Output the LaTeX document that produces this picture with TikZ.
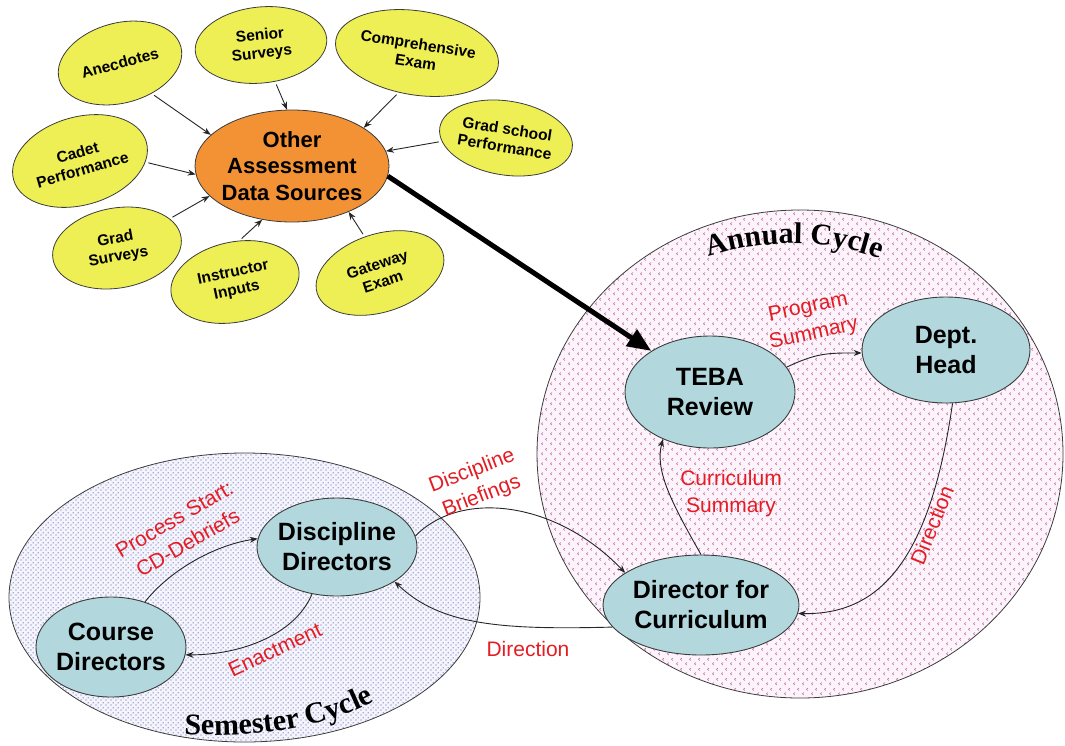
\documentclass[tikz,border=0pt]{standalone}
\usepackage{fontspec}
\setmainfont{Liberation Sans}
\newfontfamily\cycfont{Liberation Serif}
\usetikzlibrary{shapes.geometric,arrows.meta,patterns,decorations.text}

\definecolor{yelc}{RGB}{238,238,85}
\definecolor{orac}{RGB}{242,146,52}
\definecolor{bluc}{RGB}{178,216,222}
\definecolor{redc}{RGB}{228,28,36}
\definecolor{chevc}{RGB}{190,105,160}
\definecolor{annbg}{RGB}{253,244,251}
\definecolor{dotc}{RGB}{95,95,175}
\definecolor{sembg}{RGB}{244,244,252}
\definecolor{edgec}{RGB}{60,60,60}

\pgfdeclarepatternformonly{chevpat}{\pgfpointorigin}{\pgfpoint{9pt}{10pt}}{\pgfpoint{9pt}{10pt}}{%
  \pgfsetlinewidth{0.6pt}%
  \pgfpathmoveto{\pgfpoint{3.2pt}{1pt}}\pgfpathlineto{\pgfpoint{1.6pt}{2.4pt}}\pgfpathlineto{\pgfpoint{3.2pt}{3.8pt}}%
  \pgfpathmoveto{\pgfpoint{7.7pt}{6pt}}\pgfpathlineto{\pgfpoint{6.1pt}{7.4pt}}\pgfpathlineto{\pgfpoint{7.7pt}{8.8pt}}%
  \pgfusepath{stroke}%
}
\pgfdeclarepatternformonly{dotpat}{\pgfpointorigin}{\pgfpoint{5pt}{5pt}}{\pgfpoint{5pt}{5pt}}{%
  \pgfpathcircle{\pgfpoint{1.25pt}{1.25pt}}{0.75pt}%
  \pgfpathcircle{\pgfpoint{3.75pt}{3.75pt}}{0.75pt}%
  \pgfusepath{fill}%
}

\begin{document}
\begin{tikzpicture}[x=1pt,y=-1pt,
  cyc/.style={ellipse, draw=edgec, line width=0.8pt, inner sep=0pt},
  yel/.style={ellipse, draw=edgec, fill=yelc, line width=0.8pt, inner sep=0pt, align=center,
    font=\fontsize{15.5}{18}\selectfont\bfseries},
  ora/.style={ellipse, draw=edgec, fill=orac, line width=0.8pt, inner sep=-2pt, align=center,
    font=\fontsize{22}{26.5}\selectfont\bfseries},
  blu/.style={ellipse, draw=edgec, fill=bluc, line width=0.9pt, inner sep=-3pt, align=center,
    font=\fontsize{25}{30}\selectfont\bfseries},
  lab/.style={text=redc, align=center, inner sep=0pt, font=\fontsize{21}{27}\selectfont},
  arr/.style={-{Stealth[length=8pt,width=6pt]}, line width=0.9pt, draw=black!85},
  bigarr/.style={-{Triangle[length=24pt,width=19pt]}, line width=5pt, draw=black},
  cyctext/.style={decorate, decoration={text along path, text align=center,
    text={|\cycfont\bfseries\fontsize{30}{32}\selectfont|#1}}}
]
\useasboundingbox (0,0) rectangle (1065,745);

% cycles
\node[cyc, preaction={fill=sembg}, pattern=dotpat, pattern color=dotc,
  minimum width=471pt, minimum height=289pt] (semcyc) at (244.5,597.5) {};
\node[cyc, preaction={fill=annbg}, pattern=chevpat, pattern color=chevc,
  minimum width=526pt, minimum height=488pt] (anncyc) at (800,454) {};

\path[cyctext={Annual Cycle}] (694,262) .. controls (760,237) and (830,237) .. (894,264);
\path[cyctext={Semester Cycle}] (176,734) .. controls (250,738) and (324,731) .. (382,697);

% data sources
\node[yel, rotate=15, minimum width=126pt, minimum height=80pt] (anec) at (120,63) {Anecdotes};
\node[yel, rotate=6, minimum width=132pt, minimum height=76pt] (senior) at (261,45) {Senior\\Surveys};
\node[yel, rotate=-9, minimum width=160pt, minimum height=84pt] (comp) at (417,53) {Comprehensive\\Exam};
\node[yel, rotate=-9, minimum width=132pt, minimum height=74pt] (gsch) at (506,138) {Grad school\\Performance};
\node[yel, rotate=16, minimum width=138pt, minimum height=88pt] (cadet) at (80,161) {Cadet\\Performance};
\node[yel, rotate=10, minimum width=130pt, minimum height=80pt] (gsurv) at (117,248) {Grad\\Surveys};
\node[yel, rotate=12, minimum width=130pt, minimum height=80pt] (instr) at (235,282) {Instructor\\Inputs};
\node[yel, rotate=18, minimum width=132pt, minimum height=78pt] (gate) at (380,273) {Gateway\\Exam};
\node[ora, minimum width=194pt, minimum height=112pt] (other) at (292,166) {Other\\Assessment\\Data Sources};

\draw[arr, shorten <=3pt] (anec.-59) -- (other.159);
\draw[arr, shorten <=3pt] (senior.-75) -- (other.95);
\draw[arr, shorten <=3pt] (comp.-106) -- (other.28);
\draw[arr, shorten <=3pt] (gsch.192) -- (other.9);
\draw[arr, shorten <=3pt] (cadet.-17) -- (other.185);
\draw[arr, shorten <=3pt] (gsurv.19) -- (other.200);
\draw[arr, shorten <=3pt] (instr.72) -- (other.241);
\draw[arr, shorten <=3pt] (gate.95) -- (other.-39);

% process nodes
\node[blu, minimum width=170pt, minimum height=112pt] (teba) at (710,392) {TEBA\\Review};
\node[blu, minimum width=168pt, minimum height=106pt] (dept) at (946,350) {Dept.\\Head};
\node[blu, minimum width=196pt, minimum height=100pt] (dirc) at (701,605) {Director for\\Curriculum};
\node[blu, minimum width=160pt, minimum height=98pt] (dd) at (337,547) {Discipline\\Directors};
\node[blu, minimum width=150pt, minimum height=100pt] (cd) at (111,647) {Course\\Directors};

\draw[bigarr] (other.-6) -- (teba.145);

\draw[arr] (teba.18) .. controls +(30,-14) and +(-35,0) .. (dept.182);
\draw[arr] (dept.-83) .. controls (930,560) and (880,615) .. (dirc.-5);
\draw[arr] (dirc.90) .. controls (670,500) and (655,470) .. (teba.225);
\draw[arr] (dd.8) .. controls (460,490) and (555,500) .. (dirc.157);
\draw[arr] (dirc.194) .. controls (500,630) and (440,625) .. (dd.-31);
\draw[arr] (cd.53) .. controls (170,570) and (215,545) .. (dd.174);
\draw[arr] (dd.242) .. controls (295,635) and (240,655) .. (cd.-6);

% labels
\node[lab, rotate=12] (lprog) at (811,321) {Program\\Summary};
\node[lab] (lcurr) at (731,494) {Curriculum\\Summary};
\node[lab, rotate=68] (ldir1) at (932,525) {Direction};
\node[lab, rotate=30] (lproc) at (181,531) {Process Start:\\CD-Debriefs};
\node[lab, rotate=25] (lenact) at (275,650) {Enactment};
\node[lab, rotate=21] (lbrief) at (477,484) {Discipline\\Briefings};
\node[lab] (ldir2) at (528,649) {Direction};
\end{tikzpicture}
\end{document}
